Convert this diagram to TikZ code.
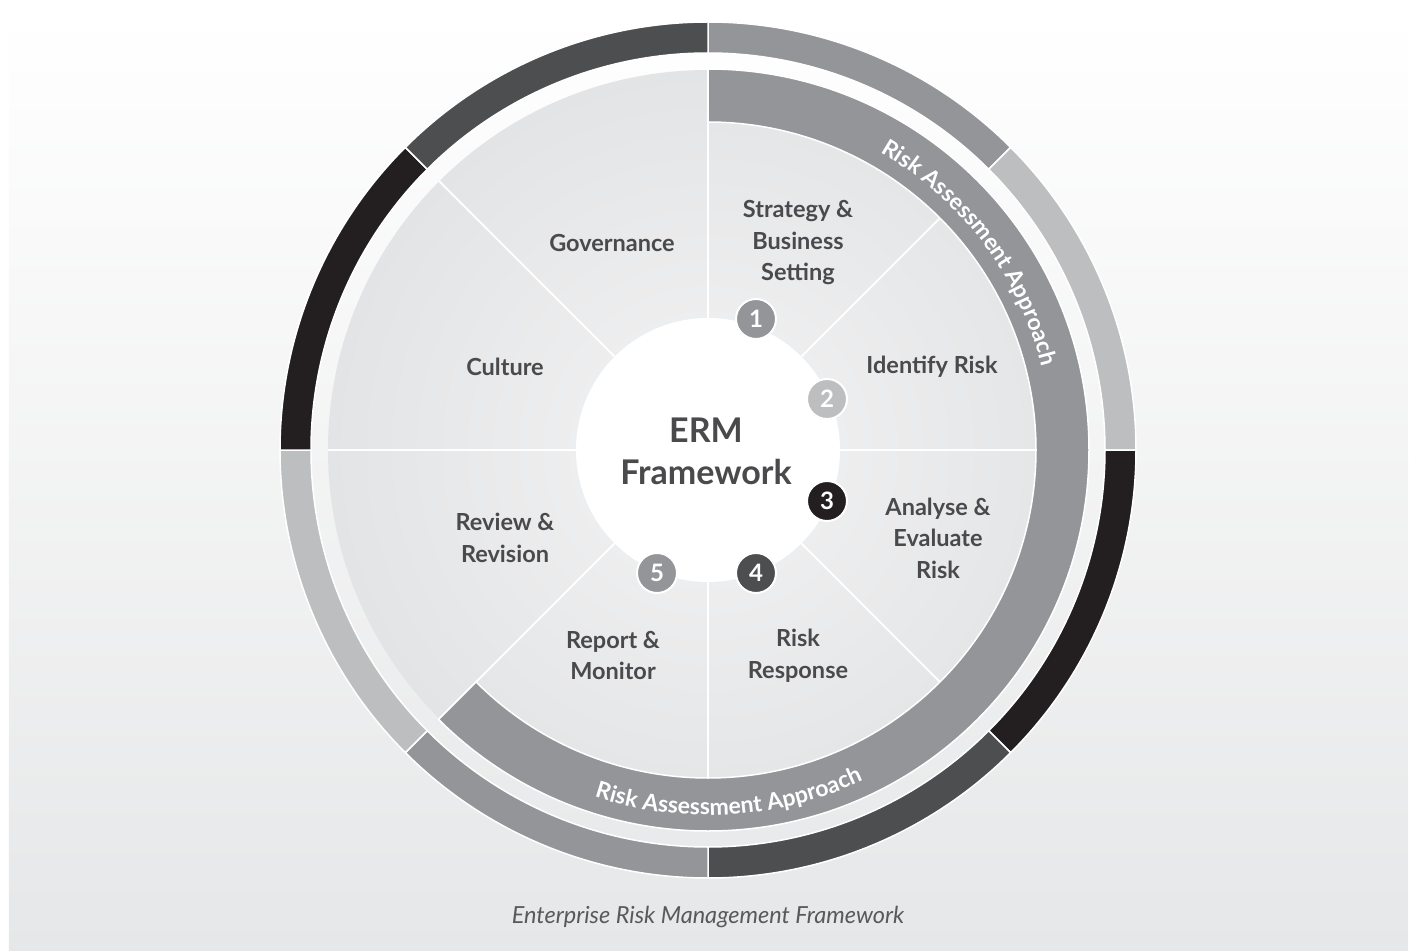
\documentclass[tikz,border=0pt]{standalone}
\usepackage{fontspec}
\setmainfont{Lato}
\usepackage{tikz}
\usetikzlibrary{decorations.text}

\definecolor{ringmid}{HTML}{939598}
\definecolor{ringlight}{HTML}{BCBEC0}
\definecolor{ringblack}{HTML}{231F20}
\definecolor{ringdark}{HTML}{4D4E50}
\definecolor{labelgray}{HTML}{4A4A4C}
\definecolor{captiongray}{HTML}{58595B}
\definecolor{bggray}{HTML}{E6E7E8}
\definecolor{wedgein}{HTML}{F3F3F4}
\definecolor{wedgeout}{HTML}{E3E4E5}
\newcommand\bandfont{\fontsize{23}{27}\selectfont\bfseries}

\begin{document}
\begin{tikzpicture}[x=1pt,y=1pt,
    seglabel/.style={font=\fontsize{23.5}{31.5}\selectfont\bfseries, text=labelgray, align=center},
    numdot/.style={circle, draw=white, line width=2pt, minimum size=40pt, inner sep=0pt,
      font=\fontsize{24}{24}\selectfont\bfseries, text=white},
    ringseg/.style={draw=white, line width=1.5pt}]
  \useasboundingbox (-708,450) rectangle (707,-500);
  \shade[top color=white, bottom color=bggray] (-699,438) rectangle (700,-500);

  % outer ring
  \foreach \a/\col in {90/ringmid,45/ringlight,0/ringblack,-45/ringdark,-90/ringmid,-135/ringlight,-180/ringblack,-225/ringdark}
    \filldraw[ringseg, fill=\col] (\a:428) arc[start angle=\a, end angle=\a-45, radius=428]
      -- (\a-45:397) arc[start angle=\a-45, end angle=\a, radius=397] -- cycle;

  % wedges
  \shade[inner color=wedgein, outer color=wedgeout] (0,0) circle[radius=380];
  \foreach \a in {0,45,...,315}
    \draw[white, line width=2pt] (0,0) -- (\a:380);

  % band
  \filldraw[ringseg, fill=ringmid] (90:381) arc[start angle=90, end angle=-135, radius=381]
    -- (-135:328) arc[start angle=-135, end angle=90, radius=328] -- cycle;
  \path[decorate, decoration={text along path, text={|\bandfont|Risk Assessment Approach},
      text align=center, text color=white}]
    (75:344) arc[start angle=75, end angle=-1, radius=344];
  \path[decorate, decoration={text along path, text={|\bandfont|Risk Assessment Approach},
      text align=center, text color=white}]
    (-125:365) arc[start angle=-125, end angle=-48, radius=365];

  % centre
  \fill[white] (0,0) circle[radius=132];
  \node[font=\fontsize{34}{42}\selectfont\bfseries, text=labelgray, align=center] (erm) at (-2,-1) {ERM\\Framework};

  \node[seglabel] (governance) at (-96,207) {Governance};
  \node[seglabel] (strategy) at (90,207) {Strategy \&\\Business\\Setting};
  \node[seglabel] (culture) at (-203,83) {Culture};
  \node[seglabel] (identify) at (224,83) {Identify Risk};
  \node[seglabel] (analyse) at (230,-88) {Analyse \&\\Evaluate\\Risk};
  \node[seglabel] (review) at (-203,-88) {Review \&\\Revision};
  \node[seglabel] (report) at (-95,-205.5) {Report \&\\Monitor};
  \node[seglabel] (response) at (90,-205.5) {Risk\\Response};

  \node[numdot, fill=ringmid] (n1) at (48,131) {1};
  \node[numdot, fill=ringlight] (n2) at (119,51) {2};
  \node[numdot, fill=ringblack] (n3) at (119,-51) {3};
  \node[numdot, fill=ringdark] (n4) at (48,-123) {4};
  \node[numdot, fill=ringmid] (n5) at (-51,-123) {5};

  \node[font=\fontsize{23.5}{23.5}\selectfont\itshape, text=captiongray] (caption) at (0,-467)
    {Enterprise Risk Management Framework};
\end{tikzpicture}
\end{document}
